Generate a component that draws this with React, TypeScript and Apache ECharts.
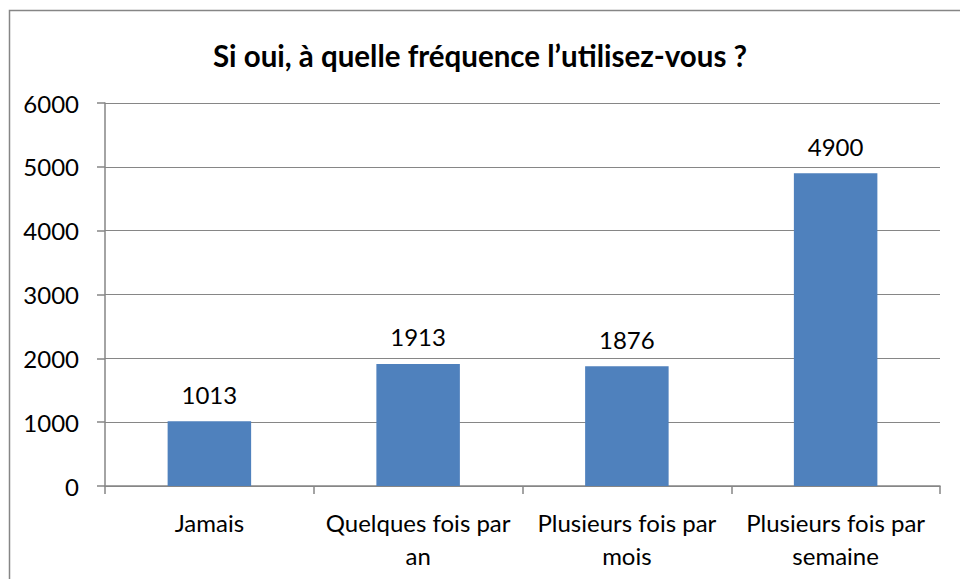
import React, { useEffect, useRef } from "react";
import * as echarts from "echarts";

const categories = [
  "Jamais",
  "Quelques fois par\nan",
  "Plusieurs fois par\nmois",
  "Plusieurs fois par\nsemaine",
];
const values = [1013, 1913, 1876, 4900];
const titleText = "Si oui, à quelle fréquence l’utilisez-vous ?";

const FONT = "Lato, 'Open Sans', sans-serif";
const GRAY = "#868686";

export default function App() {
  const ref = useRef<HTMLDivElement>(null);
  useEffect(() => {
    if (!ref.current) return;
    const chart = echarts.init(ref.current, null, { renderer: "svg" });
    chart.setOption({
      animation: false,
      backgroundColor: "#ffffff",
      textStyle: { fontFamily: FONT },
      title: {
        text: titleText,
        left: "center",
        top: 35,
        textStyle: { fontFamily: FONT, fontWeight: "bold", fontSize: 29.5, color: "#000" },
      },
      graphic: [
        {
          type: "rect",
          shape: { x: 9.5, y: 10.5, width: 1000, height: 1000 },
          style: { fill: "none", stroke: GRAY, lineWidth: 1.5 },
          silent: true,
        },
      ],
      grid: { left: 105, right: 20, top: 103, bottom: 93, containLabel: false },
      xAxis: {
        type: "category",
        data: categories,
        axisLine: { lineStyle: { color: GRAY, width: 1.5 } },
        axisTick: { show: true, length: 8, lineStyle: { color: GRAY, width: 1.5 } },
        axisLabel: {
          color: "#000",
          fontFamily: FONT,
          fontSize: 24,
          lineHeight: 33,
          margin: 20,
          interval: 0,
        },
      },
      yAxis: {
        type: "value",
        min: 0,
        max: 6000,
        interval: 1000,
        axisLine: { show: true, lineStyle: { color: GRAY, width: 1.5 } },
        axisTick: { show: true, length: 8, lineStyle: { color: GRAY, width: 1.5 } },
        splitLine: { lineStyle: { color: GRAY, width: 1.2 } },
        axisLabel: {
          color: "#000",
          fontFamily: FONT,
          fontSize: 24,
          margin: 26,
          formatter: (v: number) => String(v),
        },
      },
      series: [
        {
          type: "bar",
          data: values,
          barWidth: "40%",
          itemStyle: { color: "#4F81BD" },
          label: {
            show: true,
            position: "top",
            distance: 15,
            color: "#000",
            fontFamily: FONT,
            fontSize: 24,
          },
        },
      ],
    });
    return () => chart.dispose();
  }, []);
  return (
    <div
      ref={ref}
      style={{ position: "fixed", left: 0, top: 0, width: 960, height: 579 }}
    />
  );
}
